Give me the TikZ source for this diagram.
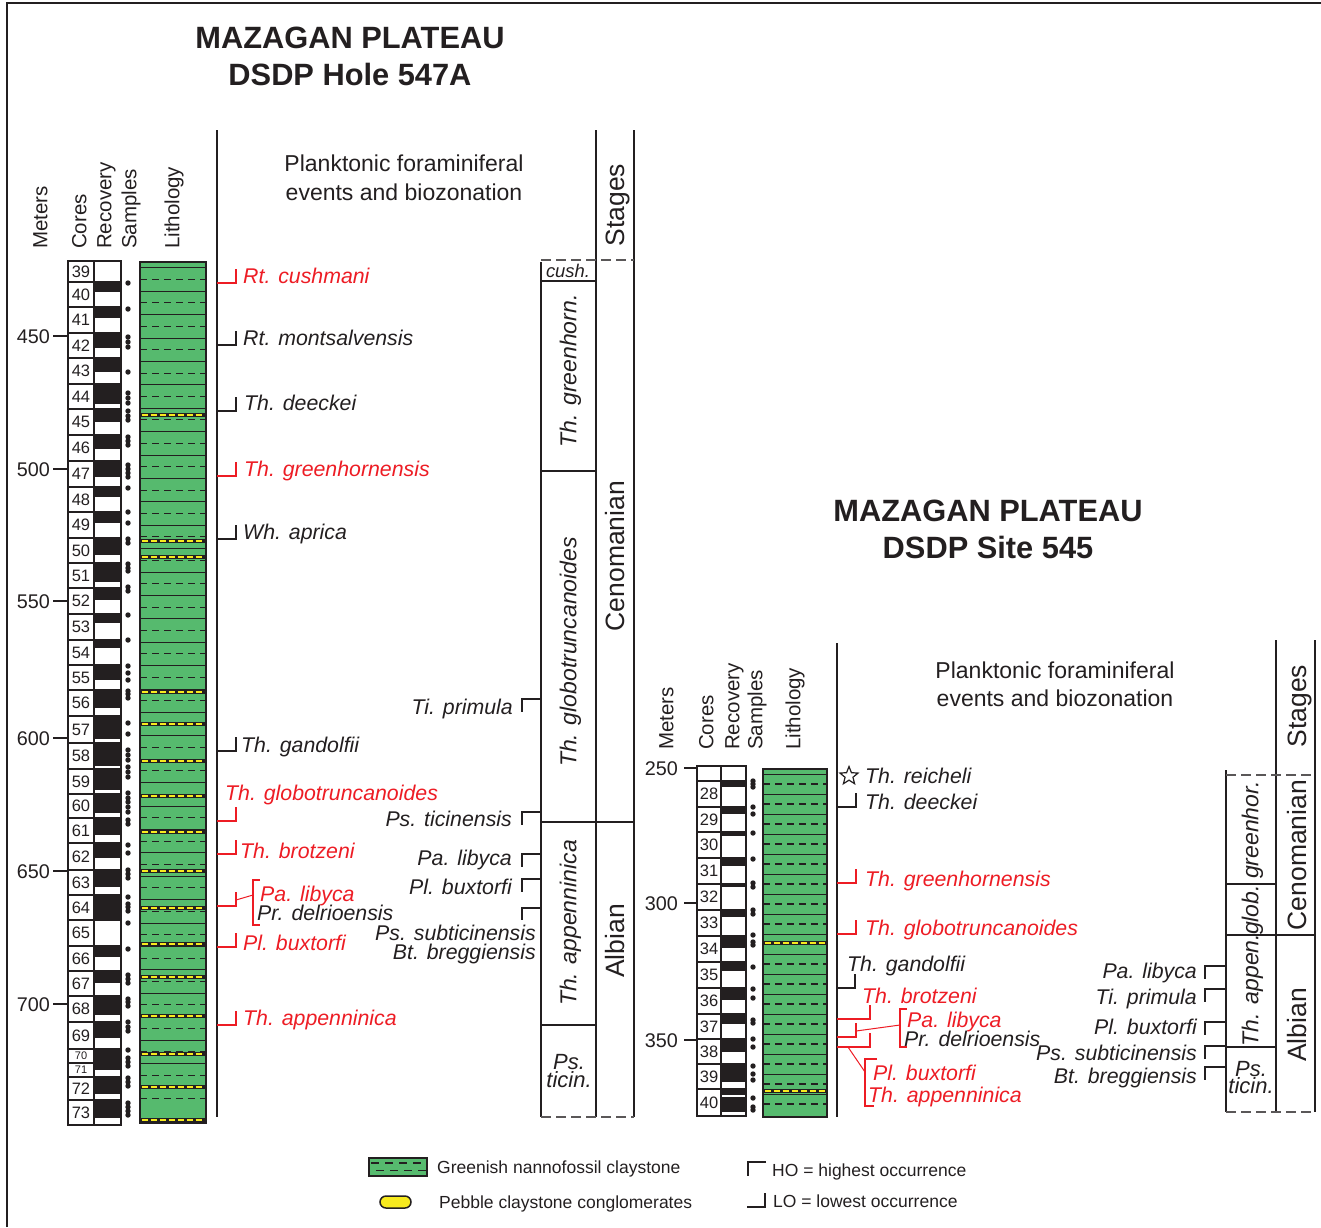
\documentclass[tikz,border=0pt]{standalone}
\usepackage{fontspec}
\setmainfont{Liberation Sans}
\usetikzlibrary{shapes.geometric}
\definecolor{ink}{RGB}{35,31,32}
\definecolor{evred}{RGB}{237,28,36}
\definecolor{clay}{RGB}{86,186,110}
\definecolor{pebble}{RGB}{247,234,30}
\def\lomark[#1](#2:#3:#4){\draw[#1] (#2,#4) -- (#3,#4) -- (#3,#4-14);}
\def\homark[#1](#2:#3:#4){\draw[#1] (#2,#4) -- (#3,#4) -- (#3,#4+13);}
\def\pebble(#1:#2:#3){\draw[line width=4.6, color=ink] (#1,#3) -- (#2,#3); \draw[line width=2.4, color=pebble, dash pattern=on 6.5pt off 2.5pt] (#1+1.5,#3) -- (#2-1,#3);}
\tikzset{
  occ/.style={line width=1.5, color=ink},
  occr/.style={line width=1.5, color=evred},
  evlbl/.style={font=\fontsize{21.3}{24}\selectfont\itshape, text=ink, inner sep=0, anchor=west, text height=15.3pt, text depth=0pt},
  evlblr/.style={evlbl, text=evred},
  zonelbl/.style={font=\fontsize{23}{24}\selectfont\itshape, text=ink, inner sep=0, text height=16.6pt, text depth=0pt},
  ticinlbl/.style={font=\fontsize{22}{18}\selectfont\itshape, text=ink, inner sep=0, align=center},
  stagelbl/.style={font=\fontsize{26.5}{28}\selectfont, text=ink, inner sep=0, rotate=90, text height=19.1pt, text depth=0pt},
  hdr/.style={font=\fontsize{20.5}{22}\selectfont, text=ink, inner sep=0, rotate=90, anchor=west, text height=14.8pt, text depth=0pt},
  heading/.style={font=\fontsize{23}{25}\selectfont, text=ink, inner sep=0, text height=16.6pt, text depth=0pt},
  titlelbl/.style={font=\fontsize{30.8}{34}\selectfont\bfseries, text=ink, inner sep=0, text height=22.2pt, text depth=0pt},
  meterlbl/.style={font=\fontsize{19.8}{22}\selectfont, text=ink, inner sep=0, anchor=east, text height=14.3pt, text depth=0pt},
  corenum/.style={font=\fontsize{16.5}{18}\selectfont, text=ink, inner sep=0, text height=11.9pt, text depth=0pt},
  smallnum/.style={font=\fontsize{11}{12}\selectfont, text=ink, inner sep=0, text height=7.9pt, text depth=0pt},
  legendlbl/.style={font=\fontsize{17.5}{20}\selectfont, text=ink, inner sep=0, anchor=west, text height=12.6pt, text depth=0pt},
  colline/.style={line width=2, color=ink},
  corebox/.style={line width=1.3, color=ink},
  zonedash/.style={line width=1.8, color=ink!75, dash pattern=on 10pt off 5pt},
  lithsolid/.style={line width=0.9, color=ink},
  lithdash/.style={line width=1.1, color=ink, dash pattern=on 7pt off 5pt}
}
\begin{document}
\begin{tikzpicture}[x=1pt, y=-1pt]
  %%%%% START %%%%%
  \useasboundingbox (0,0) rectangle (1321,1227);
  \draw[line width=2, color=ink] (7,1227) -- (7,3) -- (1321,3);

  %%%%% DSDP Hole 547A %%%%%
  \node[titlelbl] (t1a) at (350,37) {MAZAGAN PLATEAU};
  \node[titlelbl] (t1b) at (350,74) {DSDP Hole 547A};
  \node[heading] (h1a) at (404,163) {Planktonic foraminiferal};
  \node[heading] (h1b) at (404,192) {events and biozonation};

  \node[hdr] (hm1) at (40,249) {Meters};
  \node[hdr] (hc1) at (79,249) {Cores};
  \node[hdr] (hr1) at (104,249) {Recovery};
  \node[hdr] (hs1) at (129,249) {Samples};
  \node[hdr] (hl1) at (172,249) {Lithology};

  \foreach \m/\y in {450/336,500/469,550/601,600/738,650/871,700/1004} {
    \draw[corebox] (53,\y) -- (68,\y);
    \node[meterlbl] (lm\m) at (50,\y) {\m};
  }

  \foreach \n/\a/\b/\c in {39/261/282/261, 40/282/307/292, 41/307/333/318, 42/333/358/348,
      43/358/384/372, 44/384/409/404, 45/409/435/422, 46/435/461/449, 47/461/487/477,
      48/487/512/497, 49/512/538/523, 50/538/563/555, 51/563/588/582, 52/588/614/600,
      53/614/640/623, 54/640/665/648, 55/665/690/680, 56/690/716/708, 57/716/743/739,
      58/743/769/766, 59/769/794/790, 60/794/818/813, 61/818/843/835, 62/843/870/858,
      63/870/895/887, 64/895/920/920, 65/920/946/920, 66/946/971/957, 67/971/996/983,
      68/996/1022/1015, 69/1022/1049/1038, 72/1077/1100/1094, 73/1100/1125/1118} {
    \fill[ink] (94,\a) rectangle (121,\c);
    \draw[corebox] (68,\a) rectangle (94,\b);
    \draw[corebox] (94,\a) rectangle (121,\b);
    \node[corenum] (lc\n) at (81,{(\a+\b)/2}) {\n};
  }
  \fill[ink] (94,1049) rectangle (121,1070);
  \draw[corebox] (68,1049) rectangle (94,1063);
  \draw[corebox] (68,1063) rectangle (94,1077);
  \draw[corebox] (94,1049) rectangle (121,1077);
  \node[smallnum] (lc70) at (81,1056) {70};
  \node[smallnum] (lc71) at (81,1070) {71};

  \foreach \y in {283, 309, 337,342,347, 372, 393,398,403, 411,416,420, 437,441,445,
      465,469,473,477, 488, 512, 523, 539,543, 564,568,571, 587,591, 615, 640, 666,
      673,680, 691,694,698, 723, 734, 750,755,760, 767,772,777, 793,798,802, 807,812,
      820,824, 845, 853, 870,874,878, 897, 904,907,911, 923, 949, 975,979,983,
      999,1002,1006, 1022,1027,1031, 1050, 1058,1062,1066, 1078,1082,1086,
      1103,1107,1111,1115}
    \fill[ink] (128,\y) circle (2.7);

  \fill[clay] (140,262) rectangle (206,1123);
  \foreach \k in {0,...,35} {
    \draw[lithsolid] (140,267.8+23.4*\k) -- (206,267.8+23.4*\k);
    \draw[lithdash] (140,279.5+23.4*\k) -- (206,279.5+23.4*\k);
  }
  \foreach \y in {415,541,557,692,724,761,796,832,871,908,944,977,1016,1054,1087,1120}
    \pebble(140:206:\y);
  \draw[line width=1.6, color=ink] (140,262) rectangle (206,1123);

  \draw[colline] (217,130) -- (217,1117);
  \draw[colline] (541,262) -- (541,1117);
  \draw[colline] (596,130) -- (596,1117);
  \draw[colline] (634,130) -- (634,1117);
  \draw[zonedash] (541,260) -- (634,260);
  \draw[zonedash] (541,1117) -- (634,1117);
  \draw[corebox] (541,281) -- (596,281);
  \draw[corebox] (541,471) -- (596,471);
  \draw[corebox] (541,822) -- (634,822);
  \draw[corebox] (541,1025) -- (596,1025);

  \node[zonelbl, font=\fontsize{18.4}{20}\selectfont\itshape, text height=13.2pt] (z1a) at (568,271) {cush.};
  \node[zonelbl, rotate=90] (z1b) at (568,371) {Th. greenhorn.};
  \node[zonelbl, rotate=90] (z1c) at (568,652) {Th. globotruncanoides};
  \node[zonelbl, rotate=90] (z1d) at (568,923) {Th. appenninica};
  \node[ticinlbl] (z1e) at (569,1071) {Ps.\\ticin.};
  \node[stagelbl] (s1a) at (615,205) {Stages};
  \node[stagelbl] (s1b) at (615,556) {Cenomanian};
  \node[stagelbl] (s1c) at (615,941) {Albian};

  \lomark[occr](217:236:283);
  \node[evlblr] (e1a) at (243,276) {Rt. cushmani};
  \lomark[occ](217:236:345);
  \node[evlbl] (e1b) at (243,338) {Rt. montsalvensis};
  \lomark[occ](217:236:411);
  \node[evlbl] (e1c) at (244,403) {Th. deeckei};
  \lomark[occr](217:236:476);
  \node[evlblr] (e1d) at (244,469) {Th. greenhornensis};
  \lomark[occ](217:236:539);
  \node[evlbl] (e1e) at (243,532) {Wh. aprica};
  \lomark[occ](217:236:751);
  \node[evlbl] (e1f) at (241,745) {Th. gandolfii};
  \lomark[occr](217:236:821);
  \node[evlblr] (e1g) at (225,793) {Th. globotruncanoides};
  \lomark[occr](217:236:854);
  \node[evlblr] (e1h) at (240,851) {Th. brotzeni};
  \lomark[occr](217:236:906);
  \draw[occr, line width=1] (236,900) -- (253,895);
  \draw[occr] (260,880) -- (253,880) -- (253,925) -- (260,925);
  \node[evlblr] (e1i) at (260,894) {Pa. libyca};
  \node[evlbl] (e1j) at (257,913) {Pr. delrioensis};
  \lomark[occr](217:236:947);
  \node[evlblr] (e1k) at (243,943) {Pl. buxtorfi};
  \lomark[occr](217:236:1025);
  \node[evlblr] (e1l) at (243,1018) {Th. appenninica};

  \homark[occ](541:522:699);
  \node[evlbl, anchor=east] (e1m) at (513,707) {Ti. primula};
  \homark[occ](541:522:812);
  \node[evlbl, anchor=east] (e1n) at (512,819) {Ps. ticinensis};
  \homark[occ](541:522:854);
  \node[evlbl, anchor=east] (e1o) at (512,858) {Pa. libyca};
  \homark[occ](541:522:879);
  \node[evlbl, anchor=east] (e1p) at (512,887) {Pl. buxtorfi};
  \draw[occ] (541,908) -- (522,908) -- (522,920);
  \node[evlbl, anchor=east] (e1q) at (536,933) {Ps. subticinensis};
  \node[evlbl, anchor=east] (e1r) at (536,952) {Bt. breggiensis};

  %%%%% DSDP Site 545 %%%%%
  \node[titlelbl] (t2a) at (988,510) {MAZAGAN PLATEAU};
  \node[titlelbl] (t2b) at (988,547) {DSDP Site 545};
  \node[heading] (h2a) at (1055,670) {Planktonic foraminiferal};
  \node[heading] (h2b) at (1055,698) {events and biozonation};

  \node[hdr] (hm2) at (666,750) {Meters};
  \node[hdr] (hc2) at (706,750) {Cores};
  \node[hdr] (hr2) at (732,750) {Recovery};
  \node[hdr] (hs2) at (755,750) {Samples};
  \node[hdr] (hl2) at (793,750) {Lithology};

  \foreach \m/\y in {250/768,300/903,350/1040} {
    \draw[corebox] (684,\y) -- (697,\y);
    \node[meterlbl] (rm\m) at (678,\y) {\m};
  }

  \draw[corebox] (697,766) rectangle (721,781);
  \draw[corebox] (721,766) rectangle (746,781);
  \foreach \n/\a/\b/\c in {28/781/807/787, 29/807/832/814, 30/832/858/836, 31/858/884/866,
      32/884/910/887, 33/910/936/917, 34/936/962/948, 35/962/988/971, 36/988/1014/1000,
      37/1014/1039/1024, 38/1039/1064/1052, 39/1064/1089/1082, 40/1089/1116/1112} {
    \fill[ink] (721,\a) rectangle (746,\c);
    \draw[corebox] (697,\a) rectangle (721,\b);
    \draw[corebox] (721,\a) rectangle (746,\b);
    \node[corenum] (rc\n) at (709,{(\a+\b)/2}) {\n};
  }
  \draw[line width=1.2, color=white] (722,1096) -- (745,1096);

  \foreach \y in {781,784,787, 807,814, 833, 859, 883,887, 910,914, 935,942,945, 967,
      989,998, 1020,1023, 1039,1047, 1066,1074,1080, 1098,1107,1110}
    \fill[ink] (753,\y) circle (2.7);

  \fill[clay] (763,769) rectangle (827,1117);
  \foreach \k in {0,...,16} {
    \draw[lithsolid] (763,774+20*\k) -- (827,774+20*\k);
    \draw[lithdash] (763,784+20*\k) -- (827,784+20*\k);
  }
  \pebble(763:827:943);
  \pebble(763:827:1091);
  \draw[line width=1.6, color=ink] (763,769) rectangle (827,1117);

  \draw[colline] (837,643) -- (837,1117);
  \draw[colline] (1226,770) -- (1226,1112);
  \draw[colline] (1276,640) -- (1276,1112);
  \draw[colline] (1315,640) -- (1315,1112);
  \draw[zonedash] (1226,775) -- (1315,775);
  \draw[zonedash] (1226,1112) -- (1315,1112);
  \draw[corebox] (1226,884) -- (1276,884);
  \draw[corebox] (1226,935) -- (1315,935);
  \draw[corebox] (1226,1047) -- (1276,1047);

  \node[zonelbl, rotate=90] (z2a) at (1250,830) {greenhor.};
  \node[zonelbl, rotate=90] (z2b) at (1250,910) {glob.};
  \node[zonelbl, rotate=90] (z2c) at (1250,990) {Th. appen.};
  \node[ticinlbl, font=\fontsize{22}{17}\selectfont\itshape] (z2d) at (1251,1078) {Ps.\\ticin.};
  \node[stagelbl] (s2a) at (1297,706) {Stages};
  \node[stagelbl] (s2b) at (1297,855) {Cenomanian};
  \node[stagelbl] (s2c) at (1297,1025) {Albian};

  \node[star, star points=5, star point ratio=2.3, draw=ink, line width=1.2, minimum size=19, inner sep=0] (e2s) at (849,776) {};
  \node[evlbl] (e2a) at (865,776) {Th. reicheli};
  \lomark[occ](837:856:807);
  \node[evlbl] (e2b) at (865,802) {Th. deeckei};
  \lomark[occr](837:856:883);
  \node[evlblr] (e2c) at (865,879) {Th. greenhornensis};
  \lomark[occr](837:856:934);
  \node[evlblr] (e2d) at (865,928) {Th. globotruncanoides};
  \lomark[occ](837:855:988);
  \node[evlbl] (e2e) at (847,964) {Th. gandolfii};
  \lomark[occr](837:870:1019);
  \node[evlblr] (e2f) at (862,996) {Th. brotzeni};
  \lomark[occr](837:856:1037);
  \draw[occr, line width=1] (856,1031) -- (900,1025);
  \draw[occr] (907,1009) -- (900,1009) -- (900,1047) -- (907,1047);
  \node[evlblr] (e2g) at (907,1020) {Pa. libyca};
  \node[evlbl] (e2h) at (904,1039) {Pr. delrioensis};
  \lomark[occr](837:870:1047);
  \draw[occr, line width=1] (848,1047) -- (865,1072);
  \draw[occr] (877,1059) -- (865,1059) -- (865,1106) -- (874,1106);
  \node[evlblr] (e2i) at (873,1073) {Pl. buxtorfi};
  \node[evlblr] (e2j) at (868,1095) {Th. appenninica};

  \homark[occ](1226:1205:966);
  \node[evlbl, anchor=east] (e2k) at (1197,971) {Pa. libyca};
  \homark[occ](1226:1205:989);
  \node[evlbl, anchor=east] (e2l) at (1197,997) {Ti. primula};
  \homark[occ](1226:1205:1022);
  \node[evlbl, anchor=east] (e2m) at (1197,1027) {Pl. buxtorfi};
  \homark[occ](1226:1205:1046);
  \node[evlbl, anchor=east] (e2n) at (1197,1053) {Ps. subticinensis};
  \homark[occ](1226:1205:1067);
  \node[evlbl, anchor=east] (e2o) at (1197,1076) {Bt. breggiensis};

  %%%%% legend %%%%%
  \fill[clay] (369,1158) rectangle (427,1176);
  \draw[lithdash, dash pattern=on 8pt off 6pt] (371,1163) -- (427,1163);
  \draw[lithdash, dash pattern=on 8pt off 6pt, dash phase=7pt] (369,1170.5) -- (427,1170.5);
  \draw[line width=1.3, color=ink] (369,1158) rectangle (427,1176);
  \node[legendlbl] (lg1) at (437,1167) {Greenish nannofossil claystone};
  \draw[line width=1.5, color=ink, fill=pebble, rounded corners=6] (380,1196) rectangle (411,1208);
  \node[legendlbl] (lg2) at (439,1202) {Pebble claystone conglomerates};
  \draw[occ] (766,1162) -- (748,1162) -- (748,1176);
  \node[legendlbl] (lg3) at (772,1170) {HO = highest occurrence};
  \draw[occ] (747,1207) -- (765,1207) -- (765,1193);
  \node[legendlbl] (lg4) at (773,1201) {LO = lowest occurrence};
  %%%%% END %%%%%
\end{tikzpicture}
\end{document}
